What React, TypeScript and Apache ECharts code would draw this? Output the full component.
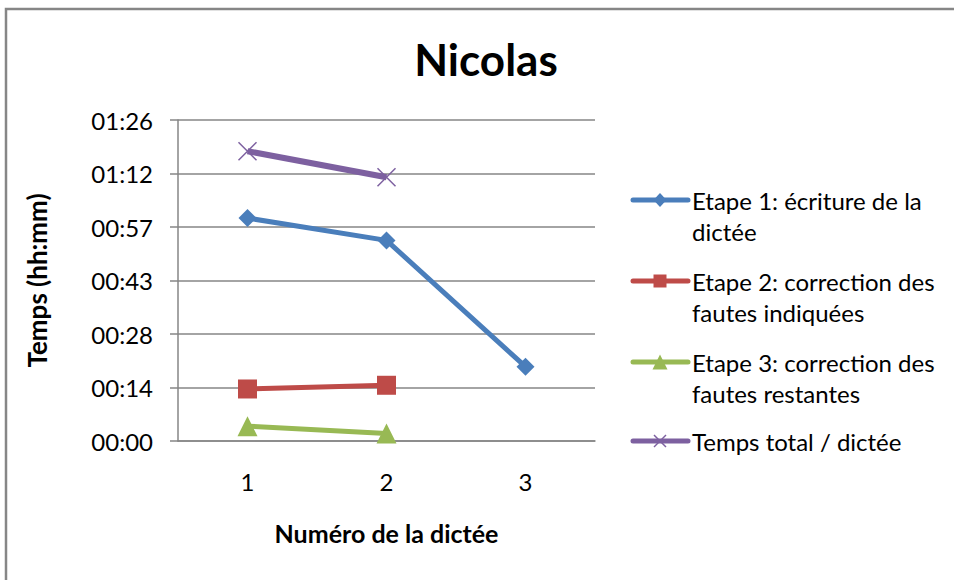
import React, { useEffect, useRef } from "react";
import * as echarts from "echarts";

const categories = ["1", "2", "3"];
const etape1 = [60, 54, 20];
const etape2 = [14, 15, null];
const etape3 = [4, 2, null];
const totalTime = [78, 71, null];
const yTickLabels = ["00:00", "00:14", "00:28", "00:43", "00:57", "01:12", "01:26"];
const seriesNames = [
  "Etape 1: écriture de la dictée",
  "Etape 2: correction des fautes indiquées",
  "Etape 3: correction des fautes restantes",
  "Temps total / dictée",
];
const legendLines = [
  ["Etape 1: écriture de la", "dictée"],
  ["Etape 2: correction des", "fautes indiquées"],
  ["Etape 3: correction des", "fautes restantes"],
  ["Temps total / dictée"],
];
const titleText = "Nicolas";
const xAxisTitle = "Numéro de la dictée";
const yAxisTitle = "Temps (hh:mm)";

const BLUE = "#4A7EBB";
const RED = "#BE4B48";
const GREEN = "#98B954";
const PURPLE = "#7D60A0";
const FONT = "Lato";
const FS = 24;
const FS_AXIS = 25;

export default function App() {
  const ref = useRef<HTMLDivElement>(null);
  useEffect(() => {
    if (!ref.current) return;
    const chart = echarts.init(ref.current, null, { renderer: "svg" });

    const colors = [BLUE, RED, GREEN, PURPLE];
    const legendY = [200, 281, 362, 441];
    const lx0 = 633, lx1 = 688, mx = 660, tx = 692;
    const legendGraphics: any[] = [];
    legendY.forEach((y, i) => {
      const c = colors[i];
      legendGraphics.push({
        type: "line",
        shape: { x1: lx0, y1: y, x2: lx1, y2: y },
        style: { stroke: c, lineWidth: 5, lineCap: "round" },
      });
      if (i === 0) {
        legendGraphics.push({
          type: "polygon",
          shape: { points: [[mx, y - 7], [mx + 6.5, y], [mx, y + 7], [mx - 6.5, y]] },
          style: { fill: c },
        });
      } else if (i === 1) {
        legendGraphics.push({
          type: "rect",
          shape: { x: mx - 6.5, y: y - 6.5, width: 13, height: 13 },
          style: { fill: c },
        });
      } else if (i === 2) {
        legendGraphics.push({
          type: "polygon",
          shape: { points: [[mx, y - 7.5], [mx + 7.5, y + 7.5], [mx - 7.5, y + 7.5]] },
          style: { fill: c },
        });
      } else {
        legendGraphics.push({
          type: "line",
          shape: { x1: mx - 6, y1: y - 6, x2: mx + 6, y2: y + 6 },
          style: { stroke: c, lineWidth: 1.5 },
        });
        legendGraphics.push({
          type: "line",
          shape: { x1: mx - 6, y1: y + 6, x2: mx + 6, y2: y - 6 },
          style: { stroke: c, lineWidth: 1.5 },
        });
      }
      legendLines[i].forEach((t, j) => {
        legendGraphics.push({
          type: "text",
          x: tx,
          y: y + j * 31,
          style: {
            text: t,
            fill: "#000",
            font: `${FS}px ${FONT}`,
            textAlign: "left",
            textVerticalAlign: "middle",
          },
        });
      });
    });

    const option: any = {
      animation: false,
      backgroundColor: "#fff",
      grid: { left: 178, top: 120, width: 417, height: 321, containLabel: false },
      xAxis: {
        type: "category",
        data: categories,
        boundaryGap: true,
        name: xAxisTitle,
        nameLocation: "middle",
        nameGap: 79,
        nameTextStyle: { fontFamily: FONT, fontSize: FS_AXIS, fontWeight: "bold", color: "#000" },
        axisLine: { lineStyle: { color: "#868686", width: 1.5 } },
        axisTick: { show: false },
        axisLabel: { fontFamily: FONT, fontSize: FS, color: "#000", margin: 28 },
      },
      yAxis: {
        type: "value",
        min: 0,
        max: 86.4,
        interval: 14.4,
        name: yAxisTitle,
        nameLocation: "middle",
        nameGap: 128,
        nameRotate: 90,
        nameTextStyle: { fontFamily: FONT, fontSize: 26, fontWeight: "bold", color: "#000" },
        axisLine: { show: true, lineStyle: { color: "#868686", width: 1.5 } },
        axisTick: { show: true, length: 8, lineStyle: { color: "#868686", width: 1.5 } },
        splitLine: { lineStyle: { color: "#868686", width: 1.5 } },
        axisLabel: {
          fontFamily: FONT,
          fontSize: FS,
          color: "#000",
          margin: 25,
          formatter: (v: number) => yTickLabels[Math.round(v / 14.4)] ?? "",
        },
      },
      series: [
        {
          name: seriesNames[0],
          type: "line",
          data: etape1,
          symbol: "diamond",
          symbolSize: 18,
          lineStyle: { color: BLUE, width: 5 },
          itemStyle: { color: BLUE },
        },
        {
          name: seriesNames[1],
          type: "line",
          data: etape2,
          symbol: "rect",
          symbolSize: 19,
          lineStyle: { color: RED, width: 5 },
          itemStyle: { color: RED },
        },
        {
          name: seriesNames[2],
          type: "line",
          data: etape3,
          symbol: "triangle",
          symbolSize: 20,
          lineStyle: { color: GREEN, width: 5 },
          itemStyle: { color: GREEN },
        },
        {
          name: seriesNames[3],
          type: "line",
          data: totalTime,
          symbol: "path://M0,0L10,10M10,0L0,10",
          symbolSize: 18,
          lineStyle: { color: PURPLE, width: 6 },
          itemStyle: { color: "none", borderColor: PURPLE, borderWidth: 1.5 },
        },
      ],
      graphic: [
        {
          type: "rect",
          shape: { x: 6, y: 9, width: 980, height: 620 },
          style: { fill: "none", stroke: "#868686", lineWidth: 2.5 },
          silent: true,
        },
        {
          type: "text",
          x: 486,
          y: 59,
          style: {
            text: titleText,
            fill: "#000",
            font: `bold 44px ${FONT}`,
            textAlign: "center",
            textVerticalAlign: "middle",
          },
        },
        ...legendGraphics,
      ],
    };
    chart.setOption(option);
    return () => chart.dispose();
  }, []);
  return (
    <div
      ref={ref}
      style={{ position: "absolute", left: 0, top: 0, width: 954, height: 580 }}
    />
  );
}
